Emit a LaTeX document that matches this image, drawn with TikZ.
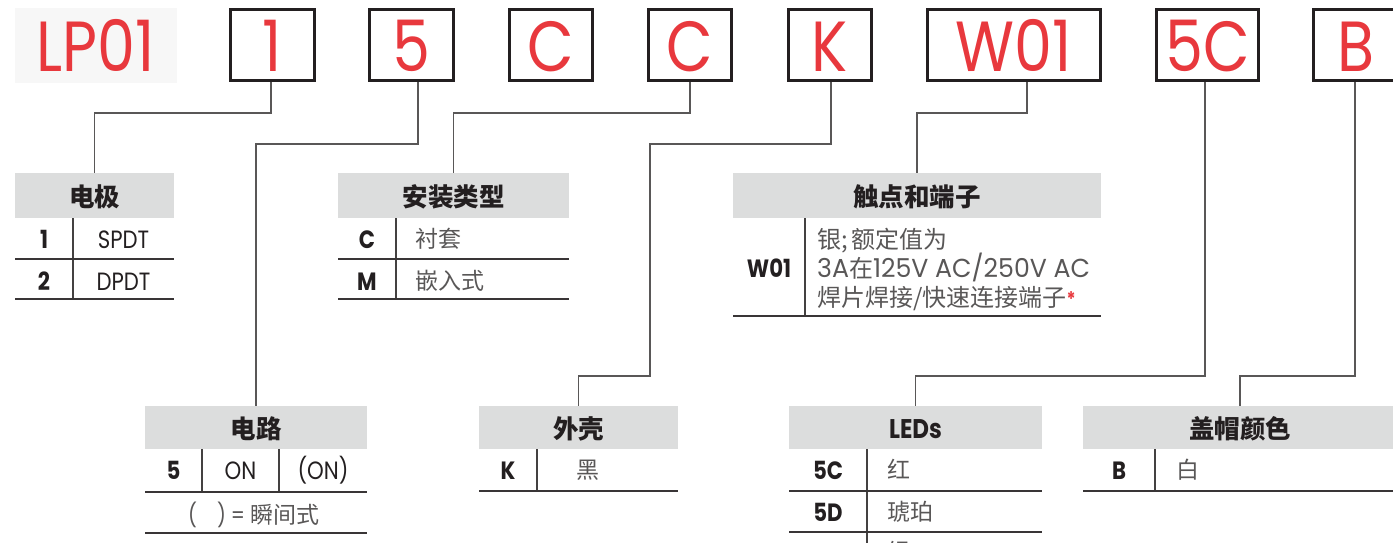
\documentclass[tikz,border=0pt]{standalone}
\usepackage{fontspec}
\newfontfamily\redf{Poppins}[FakeStretch=0.85]
\newfontfamily\latf{Poppins}[FakeStretch=0.85]
\newfontfamily\latw{Poppins}[FakeStretch=0.97]
\newfontfamily\cjk{Noto Sans CJK SC}
\definecolor{lpred}{HTML}{E8383D}
\definecolor{ink}{HTML}{231F20}
\definecolor{hdr}{HTML}{DCDDDD}
\definecolor{lnc}{HTML}{595757}
\definecolor{bodyg}{HTML}{595757}
\definecolor{lpbg}{HTML}{F7F7F7}
\begin{document}
\begin{tikzpicture}[x=1pt,y=-1pt,
  codebox/.style={draw=ink, line width=3pt, inner sep=0pt, minimum height=71pt,
    font=\redf\fontsize{71}{71}\selectfont, text=lpred, text height=52pt, text depth=0pt},
  hdrbox/.style={fill=hdr, inner sep=0pt, text=ink, text height=22pt, text depth=0pt,
    font=\cjk\bfseries\fontsize{25.5}{25.5}\selectfont},
  conn/.style={draw=lnc, line width=1.4pt},
  tline/.style={draw=ink!90, line width=1.6pt},
  sepline/.style={draw=ink!85, line width=1.3pt},
  lab/.style={font=\latf\bfseries\fontsize{25}{25}\selectfont, text=ink, anchor=base, inner sep=0pt},
  val/.style={font=\latf\fontsize{25}{25}\selectfont, text=ink, anchor=base, inner sep=0pt},
  cv/.style={font=\cjk\fontsize{23}{23}\selectfont, text=bodyg, anchor=base west, inner sep=0pt},
  cvw/.style={cv, font=\cjk\fontsize{24}{24}\selectfont}
]
\useasboundingbox (0,0) rectangle (1393,542);

% ---- code boxes ----
\node[fill=lpbg, inner sep=0pt, minimum width=162pt, minimum height=75pt,
  font=\redf\fontsize{71}{71}\selectfont, text=lpred, text height=51pt, text depth=0pt]
  (lp) at (96,45.5) {LP01};
\node[codebox, minimum width=84pt]  (b1) at (272.5,45) {1};
\node[codebox, minimum width=84pt]  (b2) at (411.5,45) {5};
\node[codebox, minimum width=83pt]  (b3) at (551,45) {C};
\node[codebox, minimum width=83pt]  (b4) at (690,45) {C};
\node[codebox, minimum width=83pt]  (b5) at (830,45) {K};
\node[codebox, minimum width=173pt] (b6) at (1014,45) {W01};
\node[codebox, minimum width=102pt] (b7) at (1207.5,45) {5C};
\node[codebox, minimum width=84pt]  (b8) at (1355.5,45) {B};

% ---- table headers ----
\node[hdrbox, minimum width=159pt, minimum height=45pt] (h1) at (94.5,195.5) {电极};
\node[hdrbox, minimum width=231pt, minimum height=45pt] (h2) at (453.5,195.5) {安装类型};
\node[hdrbox, minimum width=368pt, minimum height=45pt] (h3) at (917,195.5) {触点和端子};
\node[hdrbox, minimum width=222pt, minimum height=43pt] (hc) at (256,427.5) {电路};
\node[hdrbox, minimum width=199pt, minimum height=43pt] (hk) at (578.5,427.5) {外壳};
\node[hdrbox, minimum width=253pt, minimum height=43pt, font=\latf\bfseries\fontsize{27}{27}\selectfont] (hl) at (915.5,427.5) {LEDs};
\node[hdrbox, minimum width=314pt, minimum height=43pt] (hb) at (1240,427.5) {盖帽颜色};

% ---- connectors ----
\draw[conn] ([xshift=-1.5pt]b1.south) -- ++(0,31) -| (h1.north);
\draw[conn] ([xshift=6.5pt]b2.south) -- ++(0,62) -| (hc.north);
\draw[conn] (b4.south) -- ++(0,31) -| (h2.north);
\coordinate (kb1) at (650,144);
\coordinate (kb2) at (650,376);
\draw[conn] ([xshift=1pt]b5.south) -- ++(0,62) -- (kb1) -- (kb2) -| (hk.north);
\draw[conn] ([xshift=13pt]b6.south) -- ++(0,31) -| (h3.north);
\draw[conn] ([xshift=-2.5pt]b7.south) -- ++(0,294) -| (hl.north);
\draw[conn] ([xshift=-0.5pt]b8.south) -- ++(0,294) -| (hb.north);

% ---- table: 电极 ----
\draw[sepline] (73,218) -- (73,299);
\draw[tline] (15,259) -- (174,259);
\draw[tline] (15,299) -- (174,299);
\node[lab] (p1) at (44,248) {1};
\node[val] (p1v) at (123.5,248) {SPDT};
\node[lab] (p2) at (44,290) {2};
\node[val] (p2v) at (123.5,290) {DPDT};

% ---- table: 安装类型 ----
\draw[sepline] (396,218) -- (396,299);
\draw[tline] (338,259) -- (569,259);
\draw[tline] (338,299) -- (569,299);
\node[lab] (m1) at (367,248) {C};
\node[cv] (m1v) at (415,247) {衬套};
\node[lab] (m2) at (367,290) {M};
\node[cv] (m2v) at (415,289) {嵌入式};

% ---- table: 触点和端子 ----
\draw[sepline] (805,218) -- (805,316);
\draw[tline] (733,316) -- (1101,316);
\node[lab] (w0) at (769,277) {W01};
\node[cvw] (w1) at (817,248) {银;\hspace{4pt}额定值为};
\node[cvw] (w2) at (817,277) {{\latw\fontsize{26}{26}\selectfont 3A}在{\latw\fontsize{26}{26}\selectfont 125V AC/250V AC}};
\node[cvw] (w3) at (817,306) {焊片焊接/快速连接端子{\color{lpred}\latf\bfseries\fontsize{20}{20}\selectfont *}};

% ---- table: 电路 ----
\draw[sepline] (202,449) -- (202,492);
\draw[sepline] (279,449) -- (279,492);
\draw[tline] (145,492) -- (367,492);
\draw[tline] (145,533) -- (367,533);
\node[lab] (c1) at (173.5,479) {5};
\node[val] (c2) at (240.5,479) {ON};
\node[val] (c3) at (323,479) {(ON)};
\node[cv] (cn) at (188,523) {{\latf (\hspace{20pt})\hspace{5pt}=\hspace{5pt}}瞬间式};

% ---- table: 外壳 ----
\draw[sepline] (537,449) -- (537,491);
\draw[tline] (479,491) -- (678,491);
\node[lab] (k1) at (508,479) {K};
\node[cv] (k1v) at (576,478) {黑};

% ---- table: LEDs ----
\draw[sepline] (867,449) -- (867,545);
\draw[tline] (789,491) -- (1042,491);
\draw[tline] (789,532) -- (1042,532);
\node[lab] (l1) at (828,479) {5C};
\node[cv] (l1v) at (887,478) {红};
\node[lab] (l2) at (828,521) {5D};
\node[cv] (l2v) at (887,520) {琥珀};
\node[cv] (l3v) at (887,560) {绿};

% ---- table: 盖帽颜色 ----
\draw[sepline] (1155,449) -- (1155,491);
\draw[tline] (1083,491) -- (1397,491);
\node[lab] (bb) at (1119,479) {B};
\node[cv] (bbv) at (1176,478) {白};
\end{tikzpicture}
\end{document}
